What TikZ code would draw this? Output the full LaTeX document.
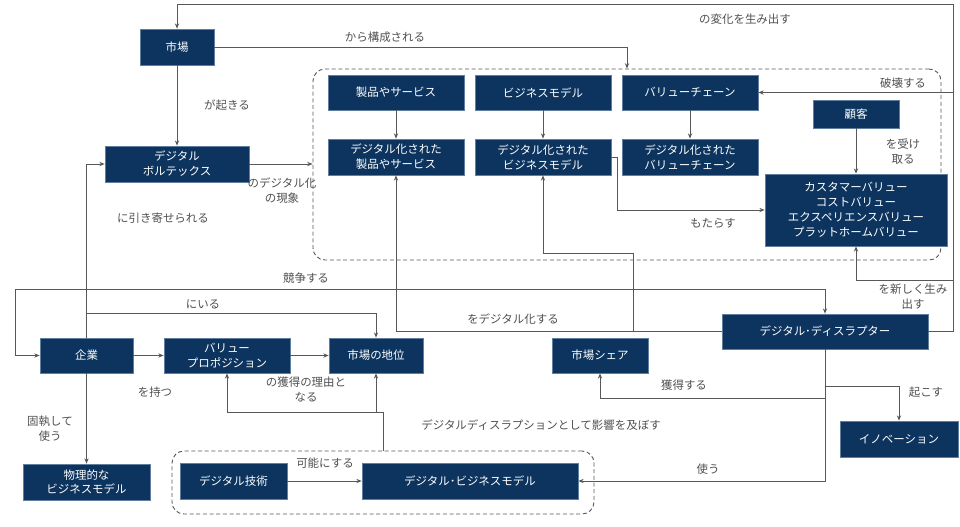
\documentclass[tikz,border=0pt]{standalone}
\usepackage{fontspec}
\setmainfont{Noto Sans CJK JP}
\usetikzlibrary{arrows.meta}
\definecolor{navy}{RGB}{12,52,94}
\definecolor{navyline}{RGB}{96,126,158}
\definecolor{wire}{RGB}{88,88,88}
\definecolor{lbltext}{RGB}{80,80,80}
\tikzset{
  box/.style={draw=navyline, line width=.5pt, fill=navy, text=white, align=center,
    inner sep=0pt, font=\fontsize{8.6}{11.2}\selectfont},
  grp/.style={draw=wire, densely dashed, line width=.7pt, rounded corners=9pt,
    inner sep=0pt},
  lbl/.style={text=lbltext, align=center, font=\fontsize{8.6}{11.2}\selectfont},
  arr/.style={draw=wire, line width=.75pt, -{Stealth[length=4pt,width=3.2pt]}},
  line/.style={draw=wire, line width=.75pt},
}
\begin{document}
\begin{tikzpicture}[x=.75pt, y=-.75pt]
  \useasboundingbox (0,0) rectangle (960,526);
  % groups
  \node [grp, minimum width=471pt, minimum height=143.25pt] (grpA) at (627,164.5) {};
  \node [grp, minimum width=316.5pt, minimum height=47.25pt] (grpB) at (383,482.5) {};
  % boxes
  \node [box, minimum width=55.5pt, minimum height=27pt] (shijo) at (177,47) {市場};
  \node [box, minimum width=108pt, minimum height=27pt] (vortex) at (177,164) {デジタル\\ボルテックス};
  \node [box, minimum width=102pt, minimum height=26.25pt] (seihin) at (396,92.5) {製品やサービス};
  \node [box, minimum width=102pt, minimum height=26.25pt] (bizmodel) at (543,92.5) {ビジネスモデル};
  \node [box, minimum width=102pt, minimum height=26.25pt] (valchain) at (690,92.5) {バリューチェーン};
  \node [box, minimum width=64.5pt, minimum height=21pt] (kokyaku) at (856,114) {顧客};
  \node [box, minimum width=102pt, minimum height=27pt] (dseihin) at (396,157) {デジタル化された\\製品やサービス};
  \node [box, minimum width=102pt, minimum height=27pt] (dbiz) at (543,157) {デジタル化された\\ビジネスモデル};
  \node [box, minimum width=102pt, minimum height=27pt] (dval) at (690,157) {デジタル化された\\バリューチェーン};
  \node [box, minimum width=136.5pt, minimum height=54pt] (values) at (856,210)
    {カスタマーバリュー\\コストバリュー\\エクスペリエンスバリュー\\プラットホームバリュー};
  \node [box, minimum width=69.75pt, minimum height=26.25pt] (kigyo) at (86.5,355.5) {企業};
  \node [box, minimum width=94.5pt, minimum height=26.25pt] (vprop) at (227,355.5) {バリュー\\プロポジション};
  \node [box, minimum width=70.5pt, minimum height=26.25pt] (chii) at (376,355.5) {市場の地位};
  \node [box, minimum width=72pt, minimum height=26.25pt] (share) at (600,355.5) {市場シェア};
  \node [box, minimum width=154.5pt, minimum height=26.25pt] (disrupt) at (825,331.5) {デジタル･ディスラプター};
  \node [box, minimum width=88.5pt, minimum height=27pt] (innov) at (899,439) {イノベーション};
  \node [box, minimum width=95.25pt, minimum height=27pt] (buturi) at (86.5,482) {物理的な\\ビジネスモデル};
  \node [box, minimum width=80.25pt, minimum height=27pt] (dtech) at (233.5,481) {デジタル技術};
  \node [box, minimum width=162pt, minimum height=27pt] (dbm) at (470,481) {デジタル･ビジネスモデル};
  % bend points
  \coordinate (rtop) at (953,4);
  \coordinate (inY) at (86.5,313);
  \coordinate (kyo) at (15,289);
  \coordinate (jn) at (383,412);
  \coordinate (mt) at (617,210);
  \coordinate (dbY) at (633,253);
  % connectors
  \draw [arr] (disrupt.east) -| (rtop) -| (shijo.north);
  \draw [arr] (shijo.east) -| (grpA.north);
  \draw [arr] (shijo) -- (vortex);
  \draw [arr] (vortex.east) -- (grpA.west |- vortex.east);
  \draw [arr] (kigyo.north) |- (vortex.west);
  \draw [arr] (kigyo.north) -- (inY) -| (chii.north);
  \draw [arr, {Stealth[length=4pt,width=3.2pt]}-{Stealth[length=4pt,width=3.2pt]}]
    (kigyo.west) -| (kyo) -| (disrupt.north);
  \draw [arr] (kigyo) -- (vprop);
  \draw [arr] (vprop) -- (chii);
  \draw [arr] (kigyo) -- (buturi);
  \draw [arr] (grpB.north) -- (jn) -| (vprop.south);
  \draw [arr] (jn -| chii.south) -- (chii.south);
  \draw [arr] (dtech) -- (dbm);
  \draw [arr] (disrupt.south) |- (dbm.east);
  \draw [arr] (disrupt.south |- 0,386) -| (innov.north);
  \draw [arr] (disrupt.south |- 0,398) -| (share.south);
  \draw [arr] (disrupt.west) -| (dseihin.south);
  \draw [arr] (disrupt.west -| dbY) -- (dbY) -| (dbiz.south);
  \draw [arr] (dbiz.east) -| (mt) -- (values.west);
  \draw [arr] (seihin) -- (dseihin);
  \draw [arr] (bizmodel) -- (dbiz);
  \draw [arr] (valchain) -- (dval);
  \draw [arr] (kokyaku) -- (values);
  \draw [arr] (rtop |- valchain.east) -- (valchain.east);
  \draw [arr] (rtop |- 0,280) -| (values.south);
  % labels
  \node [lbl] (l1) at (745,19) {の変化を生み出す};
  \node [lbl] (l2) at (385,37) {から構成される};
  \node [lbl] (l3) at (227,105) {が起きる};
  \node [lbl] (l4) at (282,191) {のデジタル化\\の現象};
  \node [lbl] (l5) at (163,218) {に引き寄せられる};
  \node [lbl] (l6) at (203,304) {にいる};
  \node [lbl] (l7) at (306,278) {競争する};
  \node [lbl] (l8) at (155,392) {を持つ};
  \node [lbl] (l9) at (306,389) {の獲得の理由と\\なる};
  \node [lbl] (l10) at (50,429) {固執して\\使う};
  \node [lbl] (l11) at (541,425) {デジタルディスラプションとして影響を及ぼす};
  \node [lbl] (l12) at (325,463) {可能にする};
  \node [lbl] (l13) at (708,469) {使う};
  \node [lbl] (l14) at (926,392) {起こす};
  \node [lbl] (l15) at (684,385) {獲得する};
  \node [lbl] (l16) at (513,319) {をデジタル化する};
  \node [lbl] (l17) at (713,223) {もたらす};
  \node [lbl] (l18) at (903,152) {を受け\\取る};
  \node [lbl] (l19) at (903,83) {破壊する};
  \node [lbl] (l20) at (913,297) {を新しく生み\\出す};
\end{tikzpicture}
\end{document}
